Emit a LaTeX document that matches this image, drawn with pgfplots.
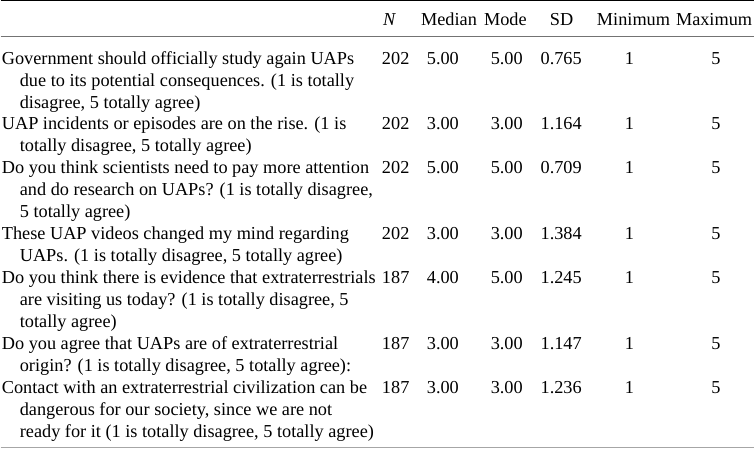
\documentclass[border=0pt]{standalone}
\usepackage{pgfplots}
\usepackage{pgfplotstable}
\pgfplotsset{compat=1.18}
\usepackage{fontspec}
\setmainfont{Liberation Serif}
\newcommand{\cell}{\fontsize{18.3}{22}\selectfont}
\newcommand{\qline}[3]{\node[anchor=base west, inner sep=0pt, font=\cell] at (axis cs:#1,#2) {#3};}

\pgfplotstableread{
row N med mode sd min max
0 202 5.00 5.00 0.765 1 5
3 202 3.00 3.00 1.164 1 5
5 202 5.00 5.00 0.709 1 5
8 202 3.00 3.00 1.384 1 5
10 187 4.00 5.00 1.245 1 5
13 187 3.00 3.00 1.147 1 5
15 187 3.00 3.00 1.236 1 5
}\stats

\pgfplotsset{
  cellplot/.style={draw=none, mark=none, nodes near coords, point meta=explicit symbolic,
    every node near coord/.append style={inner sep=0pt, outer sep=0pt, font=\cell, text=black, anchor=#1}},
}

\begin{document}
\begin{tikzpicture}
\begin{axis}[
  scale only axis, width=755pt, height=451pt,
  xmin=0, xmax=755, ymin=0, ymax=451, y dir=reverse,
  hide axis, clip=false,
]
% rules
\draw[black, line width=1.4pt] (axis cs:0,1) -- (axis cs:755,1);
\draw[black!55, line width=1pt] (axis cs:0,37) -- (axis cs:755,37);
\draw[black!35, line width=1pt] (axis cs:0,449) -- (axis cs:755,449);

% header
\node[anchor=base west, inner sep=0pt, font=\cell] at (axis cs:383,26) {\textit{N}};
\node[anchor=base west, inner sep=0pt, font=\cell] at (axis cs:421,26) {Median};
\node[anchor=base west, inner sep=0pt, font=\cell] at (axis cs:484,26) {Mode};
\node[anchor=base, inner sep=0pt, font=\cell] at (axis cs:562,26) {SD};
\node[anchor=base, inner sep=0pt, font=\cell] at (axis cs:634,26) {Minimum};
\node[anchor=base east, inner sep=0pt, font=\cell] at (axis cs:753,26) {Maximum};

% numeric columns
\addplot[cellplot=base west] table[x expr=382, y expr={64.5+22*\thisrow{row}}, meta=N] {\stats};
\addplot[cellplot=base] table[x expr=443, y expr={64.5+22*\thisrow{row}}, meta=med] {\stats};
\addplot[cellplot=base] table[x expr=507, y expr={64.5+22*\thisrow{row}}, meta=mode] {\stats};
\addplot[cellplot=base] table[x expr=561.5, y expr={64.5+22*\thisrow{row}}, meta=sd] {\stats};
\addplot[cellplot=base] table[x expr=630, y expr={64.5+22*\thisrow{row}}, meta=min] {\stats};
\addplot[cellplot=base] table[x expr=716.5, y expr={64.5+22*\thisrow{row}}, meta=max] {\stats};

% question texts
\qline{1}{64.5}{Government should officially study again UAPs}
\qline{19}{86.5}{due to its potential consequences. (1 is totally}
\qline{19}{108.5}{disagree, 5 totally agree)}
\qline{1}{130.5}{UAP incidents or episodes are on the rise. (1 is}
\qline{19}{152.5}{totally disagree, 5 totally agree)}
\qline{1}{174.5}{Do you think scientists need to pay more attention}
\qline{19}{196.5}{and do research on UAPs? (1 is totally disagree,}
\qline{19}{218.5}{5 totally agree)}
\qline{1}{240.5}{These UAP videos changed my mind regarding}
\qline{19}{262.5}{UAPs. (1 is totally disagree, 5 totally agree)}
\qline{1}{284.5}{Do you think there is evidence that extraterrestrials}
\qline{19}{306.5}{are visiting us today? (1 is totally disagree, 5}
\qline{19}{328.5}{totally agree)}
\qline{1}{350.5}{Do you agree that UAPs are of extraterrestrial}
\qline{19}{372.5}{origin? (1 is totally disagree, 5 totally agree):}
\qline{1}{394.5}{Contact with an extraterrestrial civilization can be}
\qline{19}{416.5}{dangerous for our society, since we are not}
\qline{19}{438.5}{ready for it (1 is totally disagree, 5 totally agree)}
\end{axis}
\end{tikzpicture}
\end{document}
